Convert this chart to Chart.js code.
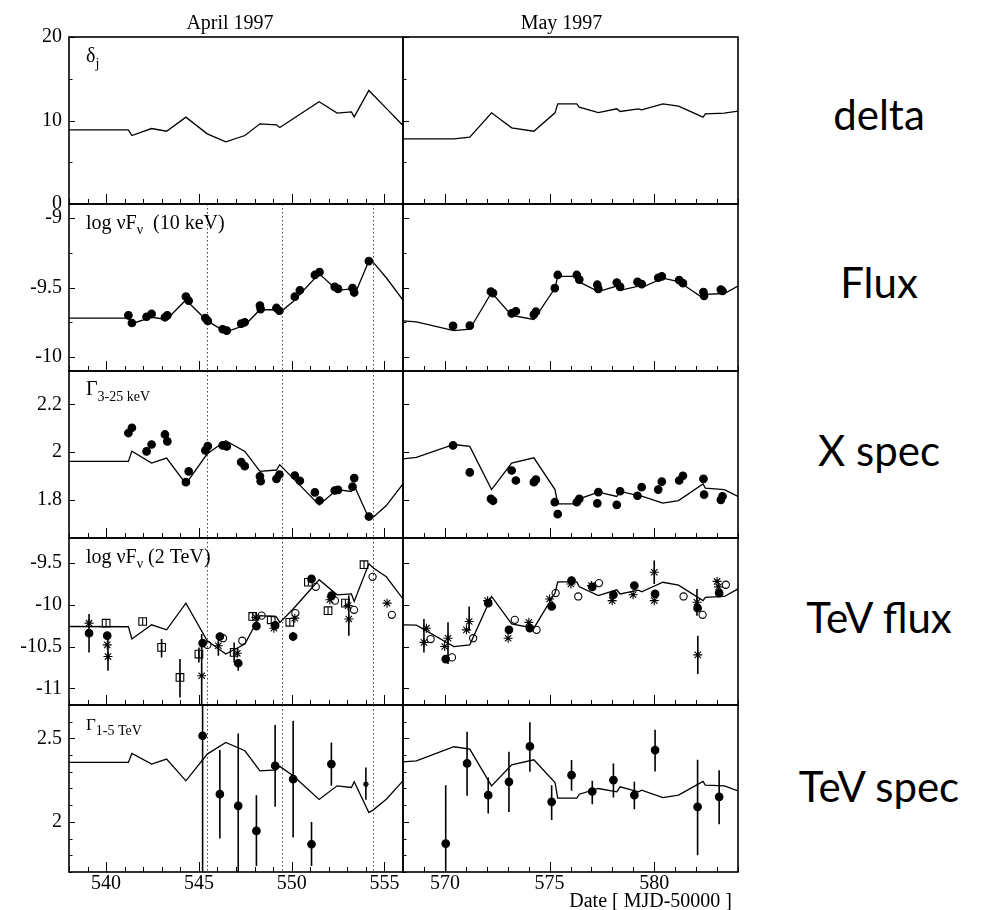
<!DOCTYPE html>
<html>
<head>
<meta charset="utf-8">
<title>Mkn 501 - April / May 1997</title>
<script src="https://cdn.jsdelivr.net/npm/chart.js@4.4.1/dist/chart.umd.min.js"></script>
<style>
  body { margin: 0; background: #fff; }
  #page { position: relative; width: 993px; height: 910px; overflow: hidden; background: #fff; }
  #page canvas { position: absolute; }
  .txt { position: absolute; white-space: nowrap; line-height: 1; color: #000; }
  .serif { font-family: "Liberation Serif", "Times New Roman", serif; }
  .sans { font-family: Lato, "Open Sans", sans-serif; }
  sub { line-height: 0; }
</style>
</head>
<body>
<div id="page"></div>
<script>
'use strict'

var SERIF = '"Liberation Serif", "Times New Roman", serif';

//------------- model curves (shared time grid per month) ------------- //
var aprModelX = [538, 541.2, 541.39, 542.45, 543.26, 544.3, 545.45, 546.45, 547.48, 548.29, 549.18,
                 549.36, 550.08, 551.48, 552.45, 553.22, 553.37, 554.16, 554.4, 555.1, 556];
var aprDelta  = [8.87, 8.87, 8.2, 9.04, 8.72, 10.4, 8.4, 7.44, 8.2, 9.6, 9.48,
                 9.16, 10.2, 12.24, 10.88, 11.04, 10.44, 13.6, 13.05, 11.45, 9.4];
var aprFluxM  = [-9.72, -9.72, -9.76, -9.714, -9.73, -9.59, -9.74, -9.82, -9.77, -9.66, -9.66,
                 -9.68, -9.60, -9.40, -9.52, -9.51, -9.56, -9.31, -9.32, -9.43, -9.59];
var aprGamM   = [1.961, 1.961, 2.004, 1.954, 1.975, 1.867, 1.993, 2.048, 2.003, 1.919, 1.925,
                 1.947, 1.89, 1.779, 1.843, 1.835, 1.86, 1.723, 1.727, 1.776, 1.867];
var aprTevM   = [-10.26, -10.263, -10.41, -10.24, -10.30, -9.98, -10.43, -10.59, -10.47, -10.13, -10.144,
                 -10.21, -10.05, -9.70, -9.88, -9.87, -9.96, -9.51, -9.56, -9.665, -9.93];
var aprIdxM   = [2.356, 2.356, 2.41, 2.346, 2.376, 2.246, 2.406, 2.476, 2.426, 2.306, 2.312,
                 2.332, 2.276, 2.134, 2.216, 2.206, 2.24, 2.056, 2.072, 2.136, 2.246];

var mayModelX = [568, 568.64, 570.43, 571.19, 572.23, 573.19, 574.25, 575.26, 575.39, 576.3, 576.42,
                 577.33, 578.21, 578.37, 579.25, 579.4, 580.41, 581.16, 582.33, 582.44, 583.35, 584];
var mayDelta  = [7.8, 7.8, 7.8, 8.0, 10.92, 9.12, 8.72, 10.92, 12.0, 12.0, 11.6,
                 10.95, 11.4, 11.08, 11.4, 11.28, 12.0, 11.72, 10.4, 10.8, 10.88, 11.12];
var mayFluxM  = [-9.74, -9.747, -9.81, -9.80, -9.536, -9.70, -9.73, -9.504, -9.42, -9.42, -9.46,
                 -9.53, -9.49, -9.52, -9.49, -9.50, -9.433, -9.457, -9.576, -9.55, -9.543, -9.49];
var mayGamM   = [1.972, 1.978, 2.032, 2.024, 1.843, 1.954, 1.976, 1.843, 1.783, 1.783, 1.804,
                 1.832, 1.814, 1.835, 1.818, 1.815, 1.786, 1.797, 1.867, 1.849, 1.843, 1.814];
var mayTevM   = [-10.24, -10.243, -10.50, -10.48, -9.90, -10.23, -10.28, -9.86, -9.725, -9.725, -9.785,
                 -9.89, -9.82, -9.87, -9.825, -9.845, -9.73, -9.765, -9.95, -9.91, -9.90, -9.81];
var mayIdxM   = [2.36, 2.366, 2.45, 2.436, 2.216, 2.342, 2.372, 2.236, 2.142, 2.142, 2.166,
                 2.2, 2.18, 2.21, 2.18, 2.19, 2.146, 2.16, 2.242, 2.22, 2.216, 2.186];

//------------- X-ray measurements ------------- //
var aprXrayX = [541.2, 541.39, 542.18, 542.45, 543.17, 543.3, 544.3, 544.45, 545.35, 545.48, 546.28, 546.5, 547.28, 547.47,
                548.29, 548.33, 549.18, 549.34, 550.17, 550.44, 551.25, 551.5, 552.32, 552.5, 553.28, 553.37, 554.16];
var aprFlux  = [-9.70, -9.755, -9.71, -9.69, -9.714, -9.70, -9.566, -9.595, -9.72, -9.74, -9.80, -9.81, -9.76, -9.75,
                -9.63, -9.655, -9.647, -9.667, -9.566, -9.52, -9.41, -9.39, -9.495, -9.51, -9.505, -9.536, -9.31];
var aprGam   = [2.08, 2.102, 2.003, 2.032, 2.074, 2.045, 1.874, 1.919, 2.007, 2.025, 2.028, 2.024, 1.958, 1.941,
                1.898, 1.878, 1.888, 1.906, 1.902, 1.88, 1.831, 1.797, 1.839, 1.842, 1.855, 1.891, 1.730];

var mayXrayX = [570.39, 571.19, 572.2, 572.3, 573.19, 573.39, 574.25, 574.35, 575.25, 575.39, 576.3, 576.42, 577.28,
                577.33, 578.21, 578.37, 579.2, 579.4, 580.19, 580.36, 581.19, 581.37, 582.35, 582.38, 583.18, 583.26];
var mayFlux  = [-9.776, -9.774, -9.53, -9.54, -9.686, -9.671, -9.695, -9.674, -9.504, -9.41, -9.41, -9.443, -9.48,
                -9.51, -9.464, -9.495, -9.46, -9.476, -9.43, -9.42, -9.447, -9.469, -9.533, -9.56, -9.515, -9.525];
var mayGam   = [2.028, 1.915, 1.804, 1.796, 1.923, 1.881, 1.874, 1.885, 1.79, 1.74, 1.79, 1.804, 1.785,
                1.832, 1.779, 1.836, 1.817, 1.853, 1.843, 1.876, 1.881, 1.901, 1.888, 1.822, 1.80, 1.815];

//------------- TeV flux, four instruments ------------- //
var aprCircX = [539.08, 540.06, 545.2, 546.13, 547.12, 548.1, 549.11, 550.08, 551.07, 552.15];
var aprCircY = [-10.34, -10.37, -10.46, -10.38, -10.70, -10.255, -10.247, -10.38, -9.69, -9.89];
var aprCircLo = [-10.57, -10.37, -10.46, -10.38, -10.79, -10.255, -10.247, -10.43, -9.69, -9.89];
var aprCircHi = [-10.11, -10.37, -10.46, -10.38, -10.65, -10.255, -10.247, -10.33, -9.69, -9.89];

var aprStarX = [539.08, 540.06, 540.1, 545.15, 546.05, 547.07, 548.07, 549.04, 550.17, 552.06, 553.04, 553.08, 555.14];
var aprStarY = [-10.22, -10.48, -10.62, -10.85, -10.49, -10.58, -10.15, -10.28, -10.16, -9.94, -10.01, -10.17, -9.98];
var aprStarLo = [-10.22, -10.48, -10.79, -11.3, -10.61, -10.58, -10.15, -10.28, -10.16, -9.94, -10.01, -10.37, -9.98];
var aprStarHi = [-10.22, -10.48, -10.40, -10.35, -10.39, -10.58, -10.15, -10.28, -10.16, -9.94, -10.01, -9.89, -9.98];

var aprSqX = [540.0, 541.97, 542.99, 543.98, 545.0, 546.9, 547.9, 548.9, 549.9, 550.9, 551.96, 552.9, 553.9];
var aprSqY = [-10.22, -10.20, -10.51, -10.87, -10.59, -10.57, -10.14, -10.18, -10.21, -9.73, -10.07, -9.98, -9.52];
var aprSqLo = [-10.22, -10.20, -10.63, -11.11, -10.69, -10.69, -10.14, -10.18, -10.21, -9.73, -10.07, -9.98, -9.52];
var aprSqHi = [-10.22, -10.20, -10.41, -10.65, -10.51, -10.45, -10.14, -10.18, -10.21, -9.73, -10.07, -9.98, -9.52];

var aprOpenX = [545.46, 546.3, 547.34, 548.38, 550.2, 551.3, 552.33, 553.36, 554.36, 555.4];
var aprOpenY = [-10.48, -10.40, -10.43, -10.13, -10.10, -9.785, -9.95, -10.06, -9.665, -10.12];

var mayCircX = [570.04, 572.07, 573.06, 574.06, 575.1, 576.05, 577.04, 578.05, 579.05, 580.04, 582.07, 583.1];
var mayCircY = [-10.65, -9.98, -10.30, -10.28, -10.02, -9.71, -9.785, -9.88, -9.77, -9.87, -10.04, -9.86];

var mayStarX = [569.0, 569.12, 569.99, 570.15, 571.03, 571.16, 572.04, 573.02, 574.01, 575.0,
                576.02, 577.0, 577.99, 578.99, 580.0, 580.0, 582.04, 582.08, 583.0, 583.07];
var mayStarY = [-10.45, -10.28, -10.50, -10.40, -10.30, -10.20, -9.95, -10.40, -10.21, -9.93,
                -9.75, -9.77, -9.95, -9.88, -9.61, -9.95, -9.97, -10.60, -9.72, -9.785];
var mayStarLo = [-10.57, -10.28, -10.50, -10.71, -10.30, -10.31, -9.95, -10.40, -10.21, -9.93,
                 -9.75, -9.77, -9.95, -9.88, -9.75, -9.95, -10.13, -10.83, -9.72, -9.785];
var mayStarHi = [-10.17, -10.28, -10.50, -10.21, -10.30, -10.02, -9.95, -10.40, -10.21, -9.93,
                 -9.75, -9.77, -9.95, -9.88, -9.47, -9.95, -9.81, -10.37, -9.72, -9.785];

var mayOpenX = [569.32, 570.34, 571.35, 573.34, 574.38, 575.29, 576.37, 577.36, 581.4, 582.31, 583.42];
var mayOpenY = [-10.41, -10.63, -10.40, -10.18, -10.30, -9.86, -9.90, -9.74, -9.90, -10.12, -9.76];

//------------- TeV spectral index ------------- //
var aprIdxX  = [545.2, 546.13, 547.12, 548.1, 549.11, 550.08, 551.07, 552.14];
var aprIdxY  = [2.516, 2.166, 2.096, 1.946, 2.336, 2.256, 1.866, 2.346];
var aprIdxLo = [1.5, 1.90, 1.6, 1.736, 2.09, 1.906, 1.736, 2.216];
var aprIdxHi = [3.0, 2.43, 2.53, 2.16, 2.58, 2.606, 2.0, 2.476];
var aprIdxStarX = [554.0], aprIdxStarY = [2.226], aprIdxStarLo = [2.132], aprIdxStarHi = [2.326];

var mayIdxX  = [570.04, 571.06, 572.07, 573.06, 574.06, 575.1, 576.05, 577.04, 578.05, 579.05, 580.04, 582.07, 583.1];
var mayIdxY  = [1.87, 2.35, 2.16, 2.24, 2.452, 2.12, 2.28, 2.182, 2.25, 2.16, 2.43, 2.09, 2.15];
var mayIdxLo = [1.6, 2.156, 2.05, 2.06, 2.30, 2.012, 2.186, 2.106, 2.146, 2.076, 2.302, 1.80, 1.986];
var mayIdxHi = [2.22, 2.54, 2.266, 2.42, 2.596, 2.22, 2.37, 2.246, 2.35, 2.24, 2.552, 2.372, 2.31];

var flareDays = [545.45, 549.5, 554.4];

//------------- axes ------------- //
var xRange = [[538, 556], [568, 584]];
var xTicks = [[540, 545, 550, 555], [570, 575, 580]];
var yRange = [[0, 20], [-10.1, -8.9], [1.64, 2.34], [-11.2, -9.2], [1.7, 2.7]];
var yTicks = [[0, 10, 20], [-10, -9.5, -9], [1.8, 2, 2.2], [-11, -10.5, -10, -9.5], [2, 2.5]];
var yMajor = [10, 0.5, 0.2, 0.5, 0.5];
var yMinor = [5, 0.25, 0.2, 0.5, 0.1];

// page geometry
var ROW_TOP = [37, 204, 371, 538, 705];
var ROW_H = 167;
var COL_LEFT = [69, 403];
var COL_W = [334, 335];

var page = document.getElementById('page');

function xy(xs, ys) {
  return xs.map(function (x, i) { return {x: x, y: ys[i]}; });
}
function bars(xs, lo, hi) {
  var out = [];
  xs.forEach(function (x, i) { out.push({x: x, y: lo[i]}, {x: x, y: hi[i]}, {x: x, y: null}); });
  return out;
}
function curve(xs, ys) {
  return {data: xy(xs, ys), borderColor: '#000', borderWidth: 1.3, pointRadius: 0, tension: 0, order: 3};
}
function errs(xs, lo, hi) {
  return {data: bars(xs, lo, hi), borderColor: '#000', borderWidth: 1.6, pointRadius: 0, spanGaps: false, order: 2};
}
function marks(xs, ys, style, filled, r, rot) {
  return {data: xy(xs, ys), showLine: false, pointStyle: style, pointRadius: r, pointRotation: rot || 0,
          pointBackgroundColor: filled ? '#000' : 'rgba(0,0,0,0)', pointBorderColor: '#000',
          pointBorderWidth: 1.1, order: 1};
}

function tickList(min, max, minor, major) {
  var out = [];
  for (var k = Math.ceil(min / minor - 1e-9); k * minor <= max + 1e-9; k++) {
    var v = k * minor;
    out.push([v, Math.abs(v / major - Math.round(v / major)) < 1e-6]);
  }
  return out;
}

// frame, inward ticks and dotted flare markers
var framePlugin = {
  id: 'frame',
  beforeDatasetsDraw: function (chart, args, opts) {
    if (!opts.flares) return;
    var ctx = chart.ctx, a = chart.chartArea, x = chart.scales.x;
    ctx.save();
    ctx.strokeStyle = '#444';
    ctx.lineWidth = 1;
    ctx.setLineDash([1.5, 2.5]);
    opts.flares.forEach(function (d) {
      var px = Math.round(x.getPixelForValue(d)) + 0.5;
      ctx.beginPath(); ctx.moveTo(px, a.top); ctx.lineTo(px, a.bottom); ctx.stroke();
    });
    ctx.restore();
  },
  afterDatasetsDraw: function (chart, args, opts) {
    var ctx = chart.ctx, a = chart.chartArea, x = chart.scales.x, y = chart.scales.y;
    ctx.save();
    ctx.strokeStyle = '#000';
    ctx.lineWidth = 1;
    ctx.beginPath();
    tickList(x.min, x.max, opts.xMinor, opts.xMajor).forEach(function (t) {
      var px = Math.round(x.getPixelForValue(t[0])) + 0.5;
      ctx.moveTo(px, a.bottom); ctx.lineTo(px, a.bottom - (t[1] ? 10 : 5));
    });
    tickList(y.min, y.max, opts.yMinor, opts.yMajor).forEach(function (t) {
      var py = Math.round(y.getPixelForValue(t[0])) + 0.5;
      ctx.moveTo(a.left, py); ctx.lineTo(a.left + (t[1] ? 6 : 3.5), py);
    });
    ctx.stroke();
    ctx.lineWidth = 1.6;
    ctx.strokeRect(a.left, a.top, a.right - a.left, a.bottom - a.top);
    ctx.restore();
  }
};

function panel(col, row, datasets) {
  // the y scale box holds the tick labels, the x scale box only exists on the bottom row
  var yBox = col === 0 ? 69 : 8;
  var xBox = row === 4 ? 34 : 0;
  var padR = 8, padT = 22, padB = row === 4 ? 0 : 22;
  var cv = document.createElement('canvas');
  cv.width = COL_W[col] + yBox + padR;
  cv.height = ROW_H + padT + padB + xBox;
  cv.style.left = (COL_LEFT[col] - yBox) + 'px';
  cv.style.top = (ROW_TOP[row] - padT) + 'px';
  page.appendChild(cv);

  new Chart(cv.getContext('2d'), {
    type: 'line',
    data: {datasets: datasets},
    options: {
      responsive: false,
      animation: false,
      events: [],
      layout: {padding: {left: 0, right: padR, top: padT, bottom: padB}},
      plugins: {
        legend: {display: false},
        tooltip: {enabled: false},
        frame: {xMajor: 5, xMinor: 1, yMajor: yMajor[row], yMinor: yMinor[row],
                flares: (col === 0 && row > 0) ? flareDays : null}
      },
      scales: {
        x: {
          type: 'linear', min: xRange[col][0], max: xRange[col][1],
          grid: {display: false, drawTicks: false}, border: {display: false},
          afterBuildTicks: function (s) { s.ticks = xTicks[col].map(function (v) { return {value: v}; }); },
          afterFit: function (s) { s.height = xBox; },
          ticks: {display: row === 4, padding: 0, color: '#000', autoSkip: false, maxRotation: 0,
                  font: {family: SERIF, size: 20}, callback: function (v) { return String(v); }}
        },
        y: {
          type: 'linear', min: yRange[row][0], max: yRange[row][1],
          grid: {display: false, drawTicks: false}, border: {display: false},
          afterBuildTicks: function (s) { s.ticks = yTicks[row].map(function (v) { return {value: v}; }); },
          afterFit: function (s) { s.width = yBox; },
          ticks: {display: col === 0, padding: 7, color: '#000', autoSkip: false,
                  font: {family: SERIF, size: 20}, callback: function (v) { return String(v); }}
        }
      }
    },
    plugins: [framePlugin]
  });
}

//------------- build panels ------------- //
panel(0, 0, [curve(aprModelX, aprDelta)]);
panel(1, 0, [curve(mayModelX, mayDelta)]);

panel(0, 1, [curve(aprModelX, aprFluxM), marks(aprXrayX, aprFlux, 'circle', true, 3.8)]);
panel(1, 1, [curve(mayModelX, mayFluxM), marks(mayXrayX, mayFlux, 'circle', true, 3.8)]);

panel(0, 2, [curve(aprModelX, aprGamM), marks(aprXrayX, aprGam, 'circle', true, 3.8)]);
panel(1, 2, [curve(mayModelX, mayGamM), marks(mayXrayX, mayGam, 'circle', true, 3.8)]);

panel(0, 3, [
  curve(aprModelX, aprTevM),
  errs(aprCircX, aprCircLo, aprCircHi),
  errs(aprStarX, aprStarLo, aprStarHi),
  errs(aprSqX, aprSqLo, aprSqHi),
  marks(aprCircX, aprCircY, 'circle', true, 3.8),
  marks(aprStarX, aprStarY, 'star', false, 4.5),
  marks(aprSqX, aprSqY, 'rect', false, 5.4),
  marks(aprSqX, aprSqY, 'line', false, 3.6, 90),
  marks(aprOpenX, aprOpenY, 'circle', false, 3.6)
]);
panel(1, 3, [
  curve(mayModelX, mayTevM),
  errs(mayStarX, mayStarLo, mayStarHi),
  marks(mayCircX, mayCircY, 'circle', true, 3.8),
  marks(mayStarX, mayStarY, 'star', false, 4.5),
  marks(mayOpenX, mayOpenY, 'circle', false, 3.6)
]);

panel(0, 4, [
  curve(aprModelX, aprIdxM),
  errs(aprIdxX, aprIdxLo, aprIdxHi),
  errs(aprIdxStarX, aprIdxStarLo, aprIdxStarHi),
  marks(aprIdxX, aprIdxY, 'circle', true, 3.8),
  marks(aprIdxStarX, aprIdxStarY, 'star', false, 3)
]);
panel(1, 4, [
  curve(mayModelX, mayIdxM),
  errs(mayIdxX, mayIdxLo, mayIdxHi),
  marks(mayIdxX, mayIdxY, 'circle', true, 3.8)
]);

//------------- text ------------- //
function text(html, x, base, size, cls, align) {
  var d = document.createElement('div');
  d.className = 'txt ' + cls;
  d.innerHTML = html;
  d.style.fontSize = size + 'px';
  d.style.left = x + 'px';
  d.style.top = (base - (cls === 'sans' ? 0.887 : 0.8375) * size) + 'px';
  if (align === 'center') d.style.transform = 'translateX(-50%)';
  if (align === 'right') d.style.transform = 'translateX(-100%)';
  page.appendChild(d);
}

text('April 1997', 230, 28.5, 20, 'serif', 'center');
text('May 1997', 561.5, 28.5, 20, 'serif', 'center');
text('Date [ MJD-50000 ]', 732, 906.5, 20, 'serif', 'right');

text('&delta;<sub style="font-size:14px;vertical-align:-6px">j</sub>', 86, 62, 20, 'serif');
text('log &nu;F<sub style="font-size:14px;vertical-align:-5px">&nu;</sub>&nbsp; (10 keV)', 86, 229, 20, 'serif');
text('&Gamma;<sub style="font-size:14px;vertical-align:-6px">3-25 keV</sub>', 86, 395, 20, 'serif');
text('log &nu;F<sub style="font-size:14px;vertical-align:-5px">&nu;</sub> (2 TeV)', 86, 563, 20, 'serif');
text('&Gamma;<sub style="font-size:14px;vertical-align:-5px">1-5 TeV</sub>', 86, 730, 17, 'serif');

text('delta', 879, 130, 42, 'sans', 'center');
text('Flux', 879, 298, 42, 'sans', 'center');
text('X spec', 879, 466, 42, 'sans', 'center');
text('TeV flux', 879, 633, 42, 'sans', 'center');
text('TeV spec', 879, 802, 42, 'sans', 'center');
</script>
</body>
</html>
